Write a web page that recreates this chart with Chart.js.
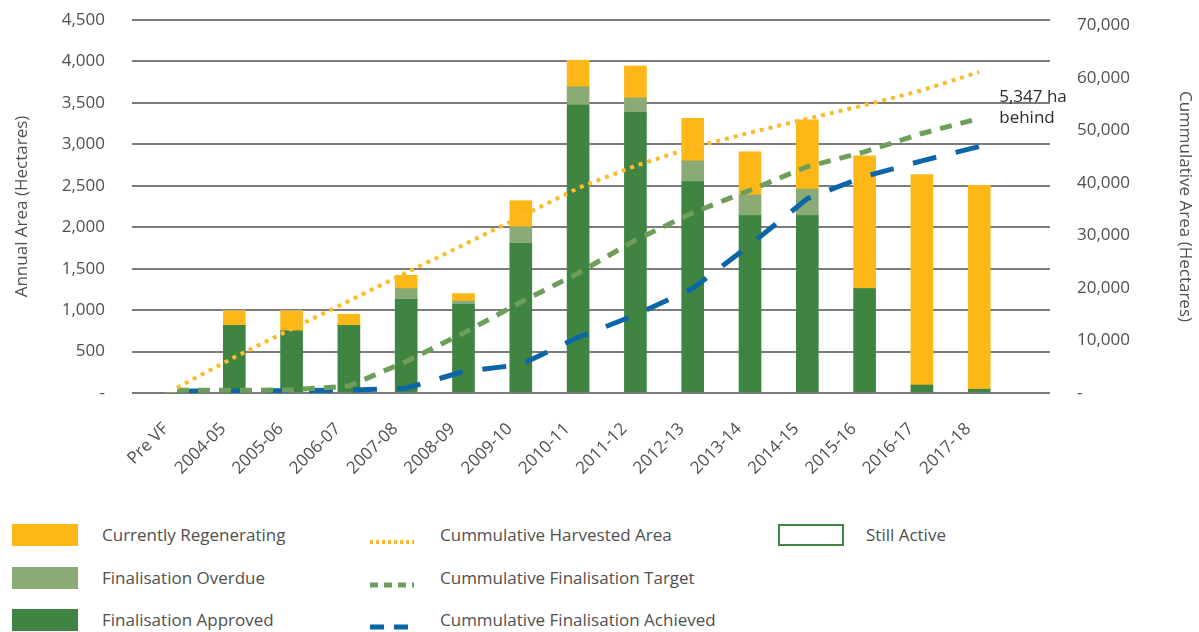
<!DOCTYPE html>
<html>
<head>
<meta charset="utf-8">
<script src="https://cdn.jsdelivr.net/npm/chart.js@4.4.0/dist/chart.umd.min.js"></script>
<style>
  body { margin: 0; background: #fff; font-family: "Open Sans", sans-serif; }
  #wrap { position: relative; width: 1199px; height: 632px; }
  #chartBox { position: absolute; left: 0; top: 0; width: 1199px; height: 500px; }
  .lg-text { position: absolute; font-size: 17px; line-height: 22px; color: #505050; white-space: nowrap; }
  .lg-box { position: absolute; width: 66px; height: 22px; box-sizing: border-box; }
  .lg-line { position: absolute; width: 44px; height: 10px; }
</style>
</head>
<body>
<div id="wrap">
  <div id="chartBox"><canvas id="ChartFinalisation"></canvas></div>
  <div id="legend"></div>
</div>
<script>
const categories = ['Pre VF', '2004-05', '2005-06', '2006-07', '2007-08', '2008-09', '2009-10',
  '2010-11', '2011-12', '2012-13', '2013-14', '2014-15', '2015-16', '2016-17', '2017-18'];

// annual area (left axis, ha)
const approved     = [0, 815, 750, 815, 1130, 1070, 1805, 3475, 3385, 2550, 2140, 2140, 1260, 95, 45];
const overdue      = [0, 0, 0, 0, 130, 40, 200, 220, 175, 250, 250, 320, 0, 0, 0];
const regenerating = [0, 175, 240, 135, 160, 90, 315, 320, 385, 515, 520, 835, 1600, 2540, 2460];
const stillActive  = [0, 0, 0, 0, 0, 0, 0, 0, 0, 0, 0, 0, 0, 0, 0];

// cumulative area (right axis, ha)
const harvested = [1000, 6800, 12200, 17500, 22900, 28200, 33600, 39000, 43250, 46750, 49550, 52200, 54800, 57600, 61100];
const target    = [500, 500, 600, 1330, 6000, 11400, 17300, 22800, 29100, 34300, 38600, 43100, 45900, 49400, 52270];
const achieved  = [350, 400, 450, 550, 900, 4100, 5400, 10600, 14850, 19900, 28200, 37000, 41200, 44200, 46920];

const leftTickValues  = [0, 500, 1000, 1500, 2000, 2500, 3000, 3500, 4000, 4500];
const rightTickValues = [0, 10000, 20000, 30000, 40000, 50000, 60000, 70000];
const rightMax = 71000;
const behindText = ['5,347 ha', 'behind'];

const gray = '#505050';
const tickFont = { family: 'Open Sans', size: 17 };

const pts = arr => arr.map((v, i) => ({ x: i, y: v }));
const fmt = v => v === 0 ? '-' : v.toLocaleString('en-US');
const setTicks = vals => s => { s.ticks = vals.map(v => ({ value: v })); };

const annotate = {
  id: 'behindNote',
  afterDatasetsDraw(chart) {
    const c = chart.ctx;
    const x = chart.scales.x.getPixelForValue(categories.length - 1) + 20;
    const y = chart.scales.y1.getPixelForValue(target[target.length - 1]);
    c.save();
    c.fillStyle = '#2f2a25';
    c.font = '17px "Open Sans"';
    c.textBaseline = 'middle';
    c.fillText(behindText[0], x, y - 21);
    c.fillText(behindText[1], x, y);
    c.restore();
  }
};

const ctx = document.getElementById('ChartFinalisation');
const chart = new Chart(ctx, {
  type: 'bar',
  data: {
    datasets: [
      { type: 'line', label: 'Cummulative Harvested Area', data: pts(harvested), yAxisID: 'y1',
        borderColor: '#fbbb2e', borderWidth: 4, borderDash: [4, 5], pointRadius: 0, tension: 0, order: 0 },
      { type: 'line', label: 'Cummulative Finalisation Target', data: pts(target), yAxisID: 'y1',
        borderColor: '#6e9f5a', borderWidth: 5, borderDash: [12, 9], pointRadius: 0, tension: 0, order: 0 },
      { type: 'line', label: 'Cummulative Finalisation Achieved', data: pts(achieved), yAxisID: 'y1',
        borderColor: '#0b66a8', borderWidth: 5, borderDash: [24, 20], pointRadius: 0, tension: 0, order: 0 },
      { label: 'Finalisation Approved', data: pts(approved), backgroundColor: '#3f8440', yAxisID: 'y', order: 1 },
      { label: 'Finalisation Overdue', data: pts(overdue), backgroundColor: '#8aaa76', yAxisID: 'y', order: 1 },
      { label: 'Currently Regenerating', data: pts(regenerating), backgroundColor: '#fdb717', yAxisID: 'y', order: 1 },
      { label: 'Still Active', data: pts(stillActive), backgroundColor: '#ffffff', yAxisID: 'y', order: 1 }
    ]
  },
  options: {
    responsive: true,
    maintainAspectRatio: false,
    animation: false,
    layout: { padding: { top: 20, left: 0, right: 0, bottom: 0 } },
    datasets: { bar: { barThickness: 22 } },
    plugins: { legend: { display: false }, tooltip: { enabled: false } },
    scales: {
      x: {
        type: 'linear', offset: false, min: -0.785, max: 15.235, stacked: true,
        grid: { display: false }, border: { display: false },
        afterFit: s => { s.height = 107; s.paddingLeft = 0; s.paddingRight = 0; },
        ticks: {
          stepSize: 1, autoSkip: false, includeBounds: false,
          minRotation: 45, maxRotation: 45, padding: 18, labelOffset: -11,
          color: gray, font: tickFont,
          callback: v => categories[v] ?? ''
        }
      },
      y: {
        position: 'left', stacked: true,
        min: leftTickValues[0], max: leftTickValues[leftTickValues.length - 1],
        afterBuildTicks: setTicks(leftTickValues),
        grid: { color: '#7c7c7c', lineWidth: 2, drawTicks: false }, border: { display: false },
        afterFit: s => { s.width = 132; s.paddingTop = 0; s.paddingBottom = 0; },
        ticks: { padding: 27, color: gray, font: tickFont, callback: fmt },
        title: { display: true, text: 'Annual Area (Hectares)', color: gray, font: tickFont, padding: { top: 12, bottom: 0 } }
      },
      y1: {
        position: 'right',
        min: 0, max: rightMax,
        afterBuildTicks: setTicks(rightTickValues),
        grid: { display: false, drawTicks: false }, border: { display: false },
        afterFit: s => { s.width = 149; s.paddingTop = 0; s.paddingBottom = 0; },
        ticks: { padding: 27, color: gray, font: tickFont, callback: fmt },
        title: { display: true, text: 'Cummulative Area (Hectares)', color: gray, font: tickFont, padding: { top: 4, bottom: 0 } }
      }
    }
  },
  plugins: [annotate]
});

// legend in three columns
const legendItems = [
  { label: 'Currently Regenerating', kind: 'box', fill: '#fdb717', col: 0, row: 0 },
  { label: 'Finalisation Overdue', kind: 'box', fill: '#8aaa76', col: 0, row: 1 },
  { label: 'Finalisation Approved', kind: 'box', fill: '#3f8440', col: 0, row: 2 },
  { label: 'Cummulative Harvested Area', kind: 'line', stroke: '#fbbb2e', w: 4, dash: '3 3', col: 1, row: 0 },
  { label: 'Cummulative Finalisation Target', kind: 'line', stroke: '#6e9f5a', w: 5, dash: '8 6', col: 1, row: 1 },
  { label: 'Cummulative Finalisation Achieved', kind: 'line', stroke: '#0b66a8', w: 5, dash: '14 10', col: 1, row: 2 },
  { label: 'Still Active', kind: 'outline', fill: '#ffffff', border: '#3f8440', col: 2, row: 0 }
];
const colX = [{ mark: 12, text: 102 }, { mark: 370, text: 440 }, { mark: 778, text: 866 }];
const rowY = [535, 578, 620];
const legend = document.getElementById('legend');
legendItems.forEach(it => {
  const cx = colX[it.col], cy = rowY[it.row];
  const mark = document.createElement('div');
  if (it.kind === 'line') {
    mark.className = 'lg-line';
    mark.innerHTML = '<svg width="44" height="10"><line x1="0" y1="5" x2="44" y2="5" stroke="' + it.stroke +
      '" stroke-width="' + it.w + '" stroke-dasharray="' + it.dash + '"/></svg>';
    mark.style.top = (cy - 5) + 'px';
  } else {
    mark.className = 'lg-box';
    mark.style.background = it.fill;
    if (it.kind === 'outline') mark.style.border = '2px solid ' + it.border;
    mark.style.top = (cy - 11) + 'px';
  }
  mark.style.left = cx.mark + 'px';
  legend.appendChild(mark);
  const t = document.createElement('div');
  t.className = 'lg-text';
  t.textContent = it.label;
  t.style.left = cx.text + 'px';
  t.style.top = (cy - 11) + 'px';
  legend.appendChild(t);
});
</script>
</body>
</html>
